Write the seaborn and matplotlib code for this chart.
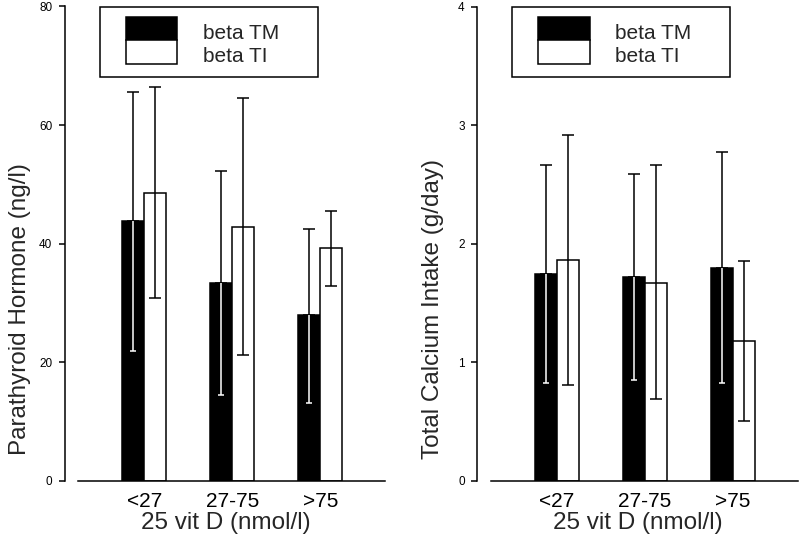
import numpy as np
import pandas as pd
import matplotlib
matplotlib.use("Agg")
import matplotlib.pyplot as plt
import seaborn as sns
from matplotlib.patches import Patch, Rectangle

# categories
groups = ["<27", "27-75", ">75"]
series = ["beta TM", "beta TI"]

# parathyroid hormone (ng/l): mean, lower and upper error bar ends
pth_tm = [43.8, 33.4, 27.9]
pth_tm_lo = [21.8, 14.5, 13.1]
pth_tm_hi = [65.6, 52.2, 42.5]
pth_ti = [48.6, 42.8, 39.2]
pth_ti_lo = [30.9, 21.2, 32.9]
pth_ti_hi = [66.5, 64.5, 45.5]

# total calcium intake (g/day)
ca_tm = [1.74, 1.72, 1.79]
ca_tm_lo = [0.82, 0.85, 0.82]
ca_tm_hi = [2.66, 2.59, 2.77]
ca_ti = [1.86, 1.67, 1.18]
ca_ti_lo = [0.81, 0.69, 0.50]
ca_ti_hi = [2.92, 2.66, 1.85]

sns.set_style("ticks")
plt.rcParams['font.family'] = ['Liberation Sans', 'DejaVu Sans']

LW = 1.1


def make_df(tm, ti):
    rows = []
    for g, v in zip(groups, tm):
        rows.append({"group": g, "series": "beta TM", "value": v})
    for g, v in zip(groups, ti):
        rows.append({"group": g, "series": "beta TI", "value": v})
    return pd.DataFrame(rows)


def draw_panel(ax, tm, tm_lo, tm_hi, ti, ti_lo, ti_hi, ymax, yticks, ylabel):
    df = make_df(tm, ti)
    sns.barplot(data=df, x="group", y="value", hue="series", order=groups,
                hue_order=series, palette={"beta TM": "black", "beta TI": "white"},
                edgecolor="black", linewidth=LW, width=0.5, errorbar=None,
                saturation=1, legend=False, ax=ax)

    # error bars; the part inside the black bars is white
    tm_bars, ti_bars = ax.containers[0], ax.containers[1]
    for bar, v, lo, hi in zip(tm_bars, tm, tm_lo, tm_hi):
        x = bar.get_x() + bar.get_width() / 2
        ax.errorbar([x], [v], yerr=[[0], [hi - v]], fmt='none', ecolor='black',
                    elinewidth=LW, capsize=4.5, capthick=LW)
        ax.vlines(x, lo, v, colors='white', linewidth=LW, zorder=3)
        ax.plot([x], [lo], marker='_', markersize=4.5, markeredgewidth=LW,
                color='white', zorder=3)
    for bar, v, lo, hi in zip(ti_bars, ti, ti_lo, ti_hi):
        x = bar.get_x() + bar.get_width() / 2
        ax.errorbar([x], [v], yerr=[[v - lo], [hi - v]], fmt='none', ecolor='black',
                    elinewidth=LW, capsize=4.5, capthick=LW)

    ax.set_xlim(-0.9, 2.75)
    ax.set_ylim(0, ymax)
    ax.set_yticks(yticks)
    sns.despine(ax=ax)
    ax.spines['bottom'].set_bounds(-0.75, 2.74)
    for s in ['left', 'bottom']:
        ax.spines[s].set_linewidth(LW)
        ax.spines[s].set_color('black')
    ax.tick_params(axis='x', length=0, pad=8, labelsize=15, colors='black')
    ax.tick_params(axis='y', length=4.3, width=LW, pad=4.8, labelsize=8.5, colors='black')

    ax.set_xlabel("25 vit D (nmol/l)", fontsize=17.5)
    ax.set_ylabel(ylabel, fontsize=17.5)
    ax.xaxis.set_label_coords(0.5, -0.066)
    ax.yaxis.set_label_coords(-0.105, 0.362)

    # legend box
    ax.add_patch(Rectangle((0.109, 0.8507), 0.678, 0.1493, transform=ax.transAxes,
                           fill=False, edgecolor='black', linewidth=LW, clip_on=False))
    handles = [Patch(facecolor='black', edgecolor='black', linewidth=LW),
               Patch(facecolor='white', edgecolor='black', linewidth=LW)]
    leg = ax.legend(handles, series, loc='upper left', bbox_to_anchor=(0.189, 0.9785),
                    frameon=False, fontsize=15, handlelength=2.48, handleheight=1.357,
                    handletextpad=1.23, labelspacing=0, borderpad=0, borderaxespad=0)
    for t in leg.get_texts():
        t.set_position((0, -3.4))


fig = plt.figure(figsize=(8, 5.43), dpi=100)
ax1 = fig.add_axes([65 / 800, 62.3 / 543, 321.2 / 800, 474.2 / 543])
ax2 = fig.add_axes([477.3 / 800, 62.3 / 543, 321.2 / 800, 474.2 / 543])

draw_panel(ax1, pth_tm, pth_tm_lo, pth_tm_hi, pth_ti, pth_ti_lo, pth_ti_hi,
           80, [0, 20, 40, 60, 80], "Parathyroid Hormone (ng/l)")
draw_panel(ax2, ca_tm, ca_tm_lo, ca_tm_hi, ca_ti, ca_ti_lo, ca_ti_hi,
           4, [0, 1, 2, 3, 4], "Total Calcium Intake (g/day)")

fig.savefig("out.png", dpi=100)
